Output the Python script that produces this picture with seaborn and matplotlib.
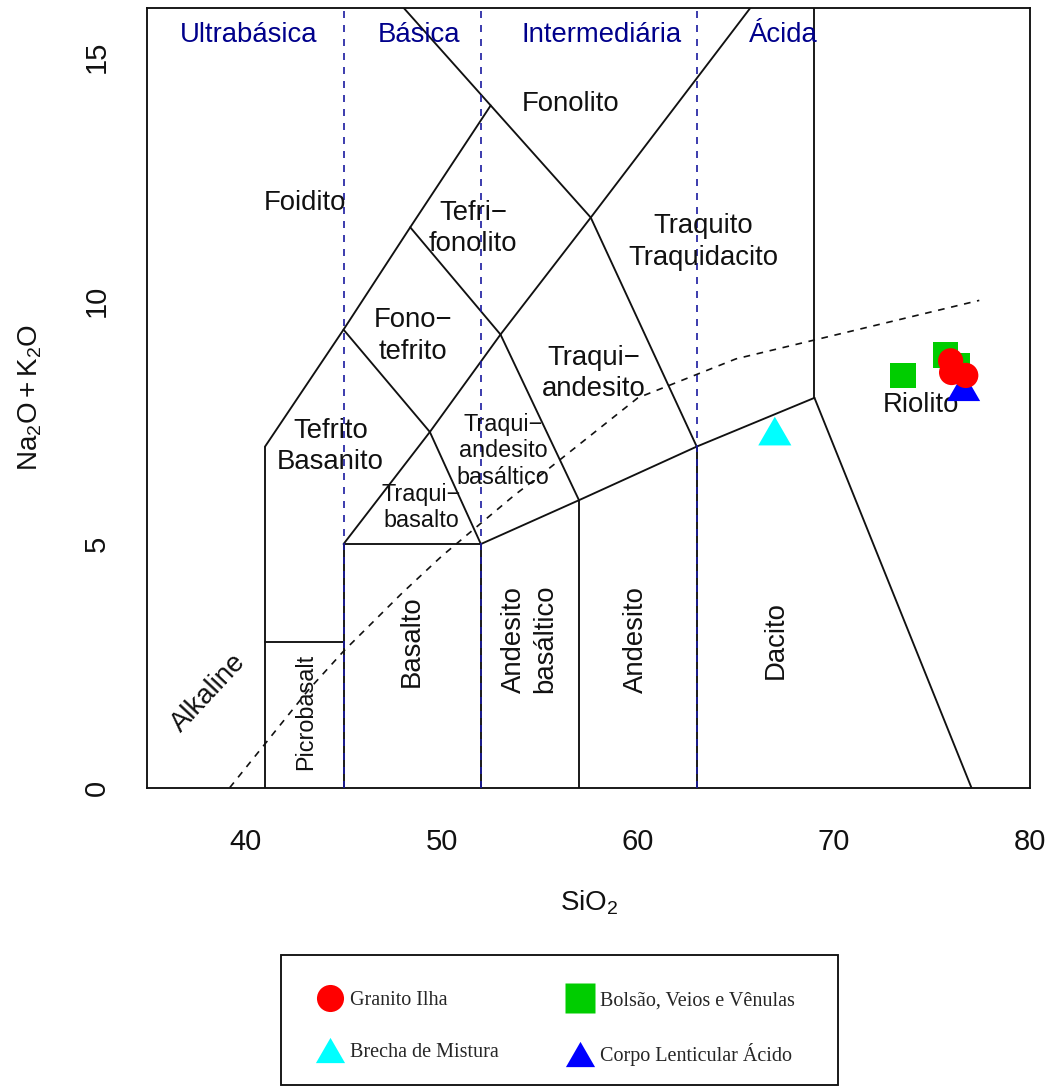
import matplotlib
matplotlib.use("Agg")
import matplotlib.pyplot as plt
from matplotlib.lines import Line2D
from matplotlib.patches import Rectangle
import pandas as pd
import seaborn as sns

# ---- Sample compositions (wt%) ----
granito_sio2 = [75.94, 75.99, 76.71]
granito_alk = [8.76, 8.52, 8.46]
bolsao_sio2 = [73.51, 75.69, 76.30]
bolsao_alk = [8.46, 8.88, 8.66]
brecha_sio2 = [66.98]
brecha_alk = [7.22]
corpo_sio2 = [76.60]
corpo_alk = [8.13]

group_names = ["Granito Ilha", "Brecha de Mistura",
               "Bolsão, Veios e Vênulas", "Corpo Lenticular Ácido"]

# ---- TAS field boundaries (Le Bas et al., 1986) ----
tas_boundaries = [
    [(41, 0), (41, 7)],
    [(41, 3), (45, 3)],
    [(45, 0), (45, 5)],
    [(45, 5), (52, 5)],
    [(52, 0), (52, 5)],
    [(52, 5), (57, 5.9), (63, 7), (69, 8)],
    [(57, 0), (57, 5.9)],
    [(63, 0), (63, 7)],
    [(69, 8), (77, 0)],
    [(69, 8), (69, 16)],
    [(41, 7), (45, 9.4), (48.4, 11.5), (52.5, 14)],
    [(45, 5), (49.4, 7.3), (53, 9.3), (57.6, 11.7), (69, 17.73)],
    [(49.4, 7.3), (52, 5)],
    [(45, 9.4), (49.4, 7.3)],
    [(48.4, 11.5), (53, 9.3)],
    [(48.07, 16), (52.5, 14), (57.6, 11.7), (63, 7)],
    [(53, 9.3), (57, 5.9)],
]

# Alkaline / subalkaline divide (Irvine & Baragar, 1971)
alkaline_sio2 = [39.2, 40, 43.2, 45, 48, 50, 53.7, 55, 60, 65, 77.4]
alkaline_alk = [0, 0.4, 2, 2.8, 4, 4.75, 6, 6.4, 8, 8.8, 10]

# Silica saturation classes
silica_limits = [45, 52, 63]
silica_classes = ["Ultrabásica", "Básica", "Intermediária", "Ácida"]

# Field names: text, SiO2, Na2O+K2O, rotation, size
field_labels = [
    ("Foidito", 43.05, 11.99, 0, "big"),
    ("Fonolito", 56.57, 14.03, 0, "big"),
    ("Tefri−\nfonolito", 51.6, 11.48, 0, "big"),
    ("Traquito\nTraquidacito", 63.32, 11.2, 0, "big"),
    ("Fono−\ntefrito", 48.55, 9.27, 0, "big"),
    ("Traqui−\nandesito", 57.76, 8.5, 0, "big"),
    ("Tefrito\nBasanito", 44.33, 7.0, 0, "big"),
    ("Traqui−\nandesito\nbasáltico", 53.14, 6.91, 0, "small"),
    ("Traqui−\nbasalto", 48.96, 5.75, 0, "small"),
    ("Riolito", 74.41, 7.85, 0, "big"),
    ("Basalto", 48.5, 3.0, 90, "big"),
    ("Andesito\nbasáltico", 54.5, 3.05, 90, "big"),
    ("Andesito", 59.9, 3.03, 90, "big"),
    ("Dacito", 67.03, 3.03, 90, "big"),
    ("Picrobasalt", 43.05, 1.56, 90, "small"),
    ("Alkaline", 38.12, 1.94, 47, "big"),
]
class_label_x = [40.15, 48.85, 58.15, 67.4]
class_label_y = 15.45

# ---- Style ----
sns.set_style("white")
plt.rcParams["font.family"] = ["Liberation Sans", "DejaVu Sans"]
plt.rcParams["mathtext.fontset"] = "custom"
plt.rcParams["mathtext.rm"] = "Liberation Sans"
plt.rcParams["mathtext.it"] = "Liberation Sans:italic"
plt.rcParams["mathtext.bf"] = "Liberation Sans:bold"

BIG = 19.8
SMALL = 16.8
LW = 1.35
INK = "#111111"

# equilateral triangles: centred on the centroid (plot) / on the box (key)
tri = [(0, 1), (-0.866, -0.5), (0.866, -0.5)]
tri_key = [(0, 0.75), (-0.866, -0.75), (0.866, -0.75)]

fig = plt.figure(figsize=(10.49, 10.88), dpi=100)
ax = fig.add_axes([147.3 / 1049, 1 - 787.7 / 1088, 883 / 1049, 779.7 / 1088])

for seg in tas_boundaries:
    xs, ys = zip(*seg)
    ax.plot(xs, ys, color=INK, lw=LW, zorder=2)

sns.lineplot(x=alkaline_sio2, y=alkaline_alk, sort=False, estimator=None,
             color=INK, lw=1.2, dashes=False, ax=ax, zorder=2,
             linestyle=(0, (4, 4)))

for xv in silica_limits:
    ax.axvline(xv, color="#1a1aa0", lw=1.2, linestyle=(0, (4.2, 4.2)), zorder=3)

for name, xv in zip(silica_classes, class_label_x):
    ax.text(xv, class_label_y, name, color="#00008B", fontsize=BIG,
            ha="center", va="center", zorder=4)

for text, xv, yv, rot, size in field_labels:
    big = size == "big"
    ax.text(xv, yv, text, fontsize=BIG if big else SMALL,
            rotation=rot, ha="center", va="center", multialignment="center",
            linespacing=1.27 if big else 1.2, color=INK, zorder=4)

# ---- Samples ----
df_bolsao = pd.DataFrame({"SiO2": bolsao_sio2, "alk": bolsao_alk})
df_brecha = pd.DataFrame({"SiO2": brecha_sio2, "alk": brecha_alk})
df_corpo = pd.DataFrame({"SiO2": corpo_sio2, "alk": corpo_alk})
df_granito = pd.DataFrame({"SiO2": granito_sio2, "alk": granito_alk})

sns.scatterplot(data=df_bolsao, x="SiO2", y="alk", marker="s", s=330,
                color="#00CD00", edgecolor="none", ax=ax, zorder=5, legend=False)
sns.scatterplot(data=df_brecha, x="SiO2", y="alk", marker=tri, s=760,
                color="#00FFFF", edgecolor="none", ax=ax, zorder=5, legend=False)
sns.scatterplot(data=df_corpo, x="SiO2", y="alk", marker=tri, s=760,
                color="#0000FF", edgecolor="none", ax=ax, zorder=5, legend=False)
sns.scatterplot(data=df_granito, x="SiO2", y="alk", marker="o", s=330,
                color="#FF0000", edgecolor="none", ax=ax, zorder=6, legend=False)

# ---- Axes ----
ax.set_xlim(35, 80)
ax.set_ylim(0, 16)
ax.set_xticks([40, 50, 60, 70, 80])
ax.set_yticks([0, 5, 10, 15])
ax.tick_params(axis="both", direction="out", length=12, width=LW,
               color=INK, labelsize=21, labelcolor=INK)
ax.tick_params(axis="x", pad=17)
ax.tick_params(axis="y", pad=14)
for lab in ax.get_yticklabels():
    lab.set_rotation(90)
    lab.set_va("center")
for sp in ax.spines.values():
    sp.set_visible(True)
    sp.set_color(INK)
    sp.set_linewidth(LW)
ax.grid(False)

ax.set_xlabel(r"$\mathrm{SiO_2}$", fontsize=20, va="center", color=INK)
ax.xaxis.set_label_coords(0.5, -0.148)
ax.set_ylabel(r"$\mathrm{Na_2O + K_2O}$", fontsize=20, va="center", color=INK)
ax.yaxis.set_label_coords(-0.132, 0.5)

# ---- Legend ----
handles = [
    Line2D([], [], marker="o", linestyle="None", markersize=19.5,
           markerfacecolor="#FF0000", markeredgecolor="none"),
    Line2D([], [], marker=tri_key, linestyle="None", markersize=21,
           markerfacecolor="#00FFFF", markeredgecolor="none"),
    Line2D([], [], marker="s", linestyle="None", markersize=21,
           markerfacecolor="#00CD00", markeredgecolor="none"),
    Line2D([], [], marker=tri_key, linestyle="None", markersize=21,
           markerfacecolor="#0000FF", markeredgecolor="none"),
]
fig.patches.append(Rectangle((281 / 1049, 1 - 1085 / 1088), 557 / 1049, 130 / 1088,
                             transform=fig.transFigure, fill=False,
                             edgecolor=INK, linewidth=LW))
fig.legend(handles, group_names, ncol=2, loc="upper left",
           bbox_to_anchor=(315 / 1049, 1 - 991 / 1088), frameon=False,
           borderpad=0, borderaxespad=0, handlelength=1.5, handletextpad=0.25,
           columnspacing=3.25, labelspacing=1.65,
           prop={"family": "Liberation Serif", "size": 14.5})

fig.savefig("out.png", dpi=100, facecolor="white")
